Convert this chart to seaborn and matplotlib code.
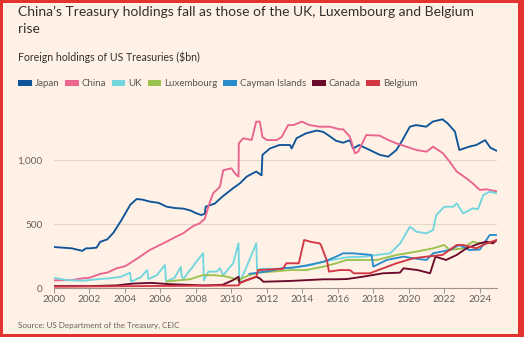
import numpy as np
import pandas as pd
import matplotlib
matplotlib.use("Agg")
import matplotlib.pyplot as plt
from matplotlib.patches import Rectangle, Patch
import seaborn as sns

# ---------------- data ($bn) ----------------
japan_years = [2000.0, 2000.5, 2001.0, 2001.6, 2001.8, 2002.0, 2002.4, 2002.6, 2003.0, 2003.34,
               2003.8, 2004.3, 2004.66, 2005.0, 2005.4, 2005.9, 2006.35, 2006.8, 2007.3, 2007.7,
               2008.0, 2008.3, 2008.5, 2008.55, 2009.07, 2009.5, 2010.1, 2010.5, 2010.86, 2011.4,
               2011.7, 2011.75, 2012.17, 2012.7, 2013.3, 2013.4, 2013.67, 2014.2, 2014.8, 2015.17,
               2015.5, 2015.9, 2016.3, 2016.68, 2016.86, 2017.2, 2017.8, 2018.37, 2018.84, 2019.3,
               2019.6, 2020.06, 2020.4, 2020.98, 2021.35, 2021.9, 2022.2, 2022.6, 2022.85, 2023.4,
               2023.8, 2024.3, 2024.6, 2024.95]
japan_vals = [320, 315, 310, 290, 310, 310, 315, 360, 380, 430,
              530, 650, 695, 690, 675, 665, 635, 625, 620, 605,
              585, 570, 580, 635, 660, 715, 780, 820, 870, 910,
              880, 1040, 1090, 1117, 1117, 1090, 1170, 1208, 1230, 1220,
              1190, 1150, 1135, 1155, 1090, 1117, 1078, 1040, 1026, 1078,
              1145, 1260, 1273, 1260, 1300, 1318, 1285, 1222, 1078, 1104,
              1117, 1155, 1096, 1072]

china_years = [2000.0, 2001.0, 2001.65, 2002.0, 2002.6, 2003.0, 2003.53, 2004.0, 2004.28, 2004.85,
               2005.4, 2006.16, 2006.7, 2007.28, 2007.66, 2007.85, 2008.2, 2008.5, 2008.7, 2008.97,
               2009.35, 2009.54, 2010.0, 2010.2, 2010.4, 2010.42, 2010.66, 2011.14, 2011.4, 2011.6,
               2011.75, 2012.0, 2012.56, 2012.83, 2013.2, 2013.5, 2013.97, 2014.4, 2014.97, 2015.55,
               2016.1, 2016.3, 2016.68, 2016.96, 2017.15, 2017.6, 2018.37, 2018.84, 2019.3, 2019.87,
               2020.43, 2021.0, 2021.37, 2021.93, 2022.3, 2022.7, 2023.25, 2023.6, 2024.0, 2024.4,
               2024.75, 2024.95]
china_vals = [60, 62, 76, 80, 110, 120, 154, 170, 193, 245,
              297, 349, 388, 427, 466, 484, 505, 540, 635, 740,
              790, 920, 935, 895, 870, 1130, 1170, 1156, 1300, 1300,
              1180, 1156, 1156, 1180, 1273, 1273, 1300, 1273, 1260, 1260,
              1240, 1240, 1182, 1052, 1065, 1195, 1190, 1156, 1130, 1104,
              1078, 1065, 1104, 1052, 987, 910, 857, 818, 766, 771,
              760, 755]

uk_years = [2000.0, 2000.7, 2001.65, 2002.4, 2003.15, 2003.8, 2004.28, 2004.35, 2004.9, 2005.25,
            2005.32, 2005.8, 2006.25, 2006.32, 2006.8, 2007.15, 2007.2, 2007.3, 2007.66, 2007.8,
            2008.0, 2008.4, 2008.45, 2008.7, 2009.17, 2009.35, 2009.54, 2010.1, 2010.4, 2010.45,
            2010.86, 2011.4, 2011.45, 2011.7, 2012.5, 2013.5, 2014.5, 2015.5, 2016.5, 2017.5,
            2018.2, 2018.95, 2019.52, 2020.06, 2020.43, 2021.0, 2021.37, 2021.55, 2022.0, 2022.5,
            2022.7, 2023.06, 2023.6, 2023.9, 2024.2, 2024.56, 2024.94]
uk_vals = [80, 62, 57, 68, 76, 88, 120, 50, 85, 140,
           70, 100, 180, 50, 80, 165, 90, 70, 140, 160,
           200, 271, 60, 128, 128, 154, 101, 193, 349, 40,
           167, 349, 140, 150, 150, 160, 180, 215, 240, 245,
           258, 271, 349, 479, 440, 427, 453, 570, 635, 635,
           661, 583, 622, 616, 727, 752, 741]

lux_years = [2006.35, 2007.0, 2007.66, 2008.4, 2009.0, 2009.54, 2010.0, 2010.4, 2011.0, 2011.5,
             2012.5, 2013.3, 2014.2, 2015.2, 2015.9, 2016.5, 2017.4, 2018.2, 2019.3, 2020.43,
             2021.37, 2022.0, 2022.3, 2023.06, 2023.6, 2024.0, 2024.5, 2024.95]
lux_vals = [50, 60, 68, 101, 100, 94, 80, 62, 100, 120,
            130, 140, 140, 167, 193, 219, 219, 219, 258, 284,
            310, 336, 297, 310, 362, 349, 349, 370]

cayman_years = [2011.0, 2011.5, 2012.0, 2012.9, 2013.5, 2014.2, 2015.2, 2015.55, 2015.9, 2016.3,
                2016.86, 2017.9, 2018.0, 2018.75, 2019.7, 2020.25, 2021.0, 2021.37, 2022.3, 2022.85,
                2023.4, 2024.0, 2024.56, 2024.95]
cayman_vals = [110, 120, 130, 154, 160, 175, 206, 224, 245, 271,
               271, 258, 167, 219, 245, 232, 219, 271, 297, 336,
               297, 300, 414, 414]

canada_years = [2000.0, 2002.0, 2003.5, 2004.5, 2005.5, 2006.5, 2007.5, 2008.5, 2009.5, 2010.1,
                2010.4, 2010.45, 2010.86, 2011.4, 2011.6, 2011.8, 2013.3, 2015.2, 2015.9, 2016.5,
                2017.4, 2018.55, 2019.5, 2019.7, 2020.5, 2021.2, 2021.5, 2022.1, 2022.7, 2023.25,
                2024.0, 2024.4, 2024.75, 2024.95]
canada_vals = [15, 15, 20, 35, 40, 30, 25, 20, 25, 62,
               88, 39, 62, 88, 75, 49, 55, 68, 68, 70,
               88, 115, 120, 154, 140, 115, 245, 219, 258, 310,
               349, 362, 349, 375]

belgium_years = [2000.0, 2005.0, 2010.4, 2010.5, 2011.4, 2011.5, 2012.9, 2013.1, 2013.8, 2014.1,
                 2014.5, 2014.97, 2015.05, 2015.4, 2015.5, 2016.1, 2016.68, 2016.9, 2017.8, 2018.55,
                 2019.3, 2020.25, 2021.0, 2021.9, 2022.7, 2023.06, 2023.8, 2024.4, 2024.95]
belgium_vals = [10, 15, 20, 40, 88, 140, 150, 193, 193, 375,
                360, 349, 336, 206, 128, 140, 140, 115, 115, 154,
                193, 232, 245, 258, 336, 336, 310, 349, 375]

countries = ["Japan", "China", "UK", "Luxembourg", "Cayman Islands", "Canada", "Belgium"]
colors = ["#0F5499", "#E9648F", "#72D6DE", "#9CC24E", "#2B8CCB", "#6B0A2A", "#D23745"]

y_ticks = [0, 500, 1000]
y_tick_labels = ["0", "500", "1,000"]
x_ticks = list(range(2000, 2025, 2))

# ---------------- build long table ----------------
series = [(japan_years, japan_vals), (china_years, china_vals), (uk_years, uk_vals),
          (lux_years, lux_vals), (cayman_years, cayman_vals), (canada_years, canada_vals),
          (belgium_years, belgium_vals)]
frames = []
for name, (yrs, vals) in zip(countries, series):
    frames.append(pd.DataFrame({"year": yrs, "value": vals, "country": name}))
df = pd.concat(frames, ignore_index=True)

# ---------------- figure ----------------
BG = "#FFF1E5"
W, H = 524, 337
fig = plt.figure(figsize=(W / 100, H / 100), dpi=100, facecolor=BG)
sns.set_style("white")
plt.rcParams["font.family"] = ["Lato", "DejaVu Sans"]

left, right = 54 / W, 497 / W
bottom = 1 - 288 / H
top_px = 288 - 1400 * 0.128
ax = fig.add_axes([left, bottom, right - left, (288 - top_px) / H])
ax.set_facecolor(BG)

for yv in y_ticks[1:]:
    ax.axhline(yv, color="#E3D6CB", lw=0.8, zorder=0)

sns.lineplot(data=df, x="year", y="value", hue="country", hue_order=countries,
             palette=dict(zip(countries, colors)), estimator=None, sort=True,
             legend=False, lw=1.35, ax=ax, zorder=3)

ax.set_xlim(2000, 2000 + (497 - 54) / 17.74)
ax.set_ylim(0, 1400)
ax.set_xticks(x_ticks)
ax.set_xticklabels([str(x) for x in x_ticks])
ax.set_yticks(y_ticks)
ax.set_yticklabels(y_tick_labels)
ax.set_xlabel("")
ax.set_ylabel("")
for s in ["top", "right", "left"]:
    ax.spines[s].set_visible(False)
ax.spines["bottom"].set_color("#9E948D")
ax.spines["bottom"].set_linewidth(0.8)
ax.tick_params(axis="x", length=3.5, width=0.7, color="#9E948D", labelsize=7.2,
               labelcolor="#66605C", pad=1.5, direction="out", bottom=True)
ax.tick_params(axis="y", length=0, labelsize=7.2, labelcolor="#66605C", pad=8)

# ---------------- texts ----------------
fig.text(18 / W, 1 - 6 / H,
         "China\u2019s Treasury holdings fall as those of the UK, Luxembourg and Belgium\nrise",
         ha="left", va="top", fontsize=10.0, color="#33302E", linespacing=1.45)
fig.text(18 / W, 1 - 57 / H, "Foreign holdings of US Treasuries ($bn)",
         ha="left", va="center", fontsize=7.6, color="#33302E")
fig.text(18 / W, 1 - 325 / H, "Source: US Department of the Treasury, CEIC",
         ha="left", va="center", fontsize=5.8, color="#66605C")

handles = [Patch(facecolor=c, edgecolor="none") for c in colors]
fig.legend(handles, countries, loc="center left", bbox_to_anchor=(18 / W, 1 - 84 / H),
           ncol=7, frameon=False, fontsize=7.0, handlelength=1.4, handleheight=0.6,
           handletextpad=0.3, columnspacing=0.6, labelcolor="#5A5450",
           borderaxespad=0, borderpad=0)

# ---------------- red frame ----------------
red = "#E4322F"
fig.add_artist(Rectangle((0, 0), 3 / W, 1, transform=fig.transFigure, color=red, lw=0))
fig.add_artist(Rectangle((1 - 6 / W, 0), 6 / W, 1, transform=fig.transFigure, color=red, lw=0))
fig.add_artist(Rectangle((0, 1 - 3 / H), 1, 3 / H, transform=fig.transFigure, color=red, lw=0))
fig.add_artist(Rectangle((0, 0), 1, 3 / H, transform=fig.transFigure, color=red, lw=0))

fig.savefig("out.png", dpi=100, facecolor=BG)
